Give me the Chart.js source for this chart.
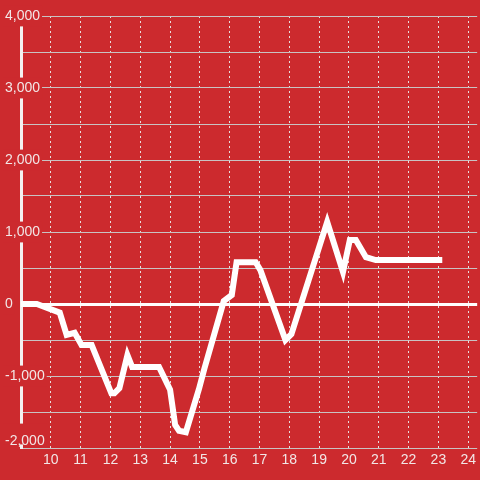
<!DOCTYPE html>
<html>
<head>
<meta charset="utf-8">
<script src="https://cdn.jsdelivr.net/npm/chart.js@4/dist/chart.umd.min.js"></script>
<style>
  body { margin: 0; background: #cc2a2e; }
  #chart { display: block; background: #cc2a2e; }
</style>
</head>
<body>
<canvas id="chart" width="480" height="480"></canvas>
<script>
// time (x) and value (y)
const xValues = [9.0, 9.53, 10.3, 10.53, 10.8, 11.03, 11.37, 12.03, 12.13, 12.3, 12.57, 12.73, 13.63,
  14.0, 14.17, 14.3, 14.53, 14.97, 15.15, 15.8, 16.07, 16.23, 16.87, 17.03, 17.87, 18.07,
  19.27, 19.8, 20.03, 20.23, 20.57, 20.9, 23.13];
const yValues = [0, 0, -120, -430, -400, -570, -570, -1240, -1240, -1170, -710, -875, -875,
  -1190, -1680, -1760, -1780, -1180, -900, 40, 125, 580, 580, 470, -500, -420,
  1140, 445, 890, 890, 650, 610, 610];
const xTicks = [10, 11, 12, 13, 14, 15, 16, 17, 18, 19, 20, 21, 22, 23, 24];

const bg = "#cc2a2e";
const textColor = "#f2e6e6";
const font = { family: "'Liberation Sans', Arial, sans-serif", size: 14 };

const points = xValues.map((x, i) => ({ x: x, y: yValues[i] }));

// lift the lowest y label so it stays inside the plot, like the original
const liftBottomLabel = {
  id: "liftBottomLabel",
  beforeDraw(chart) {
    const scale = chart.scales.y;
    const items = scale.getLabelItems(chart.chartArea);
    const last = items.find((it) => it.label === "-2,000");
    if (last && !last.lifted) {
      last.options.translation[1] -= 7;
      if (last.options.backdrop) last.options.backdrop.top -= 7;
      last.lifted = true;
    }
  }
};

new Chart(document.getElementById("chart"), {
  type: "line",
  data: {
    datasets: [{
      data: points,
      borderColor: "#ffffff",
      borderWidth: 6,
      pointRadius: 0,
      tension: 0,
      fill: false
    }]
  },
  options: {
    responsive: false,
    animation: false,
    layout: { padding: { left: 21, top: 16, right: 0, bottom: 0 } },
    plugins: { legend: { display: false }, tooltip: { enabled: false } },
    scales: {
      x: {
        type: "linear",
        min: 9,
        max: 24.3,
        afterBuildTicks: (scale) => {
          scale.ticks = xTicks.map((v) => ({ value: v }));
        },
        afterFit: (scale) => { scale.height = 32; },
        ticks: { color: textColor, font: font, padding: 4, autoSkip: false, maxRotation: 0 },
        grid: { color: "#e8dede", lineWidth: 1, drawTicks: false },
        border: { display: false, dash: [2, 3] }
      },
      y: {
        min: -2000,
        max: 4000,
        afterFit: (scale) => { scale.width = 0; },
        ticks: {
          stepSize: 500,
          mirror: true,
          padding: -16,
          color: textColor,
          font: font,
          showLabelBackdrop: (ctx) => ctx.tick && ctx.tick.value % 1000 === 0,
          backdropColor: bg,
          backdropPadding: 2,
          callback: (v) => (v % 1000 === 0 ? v.toLocaleString("en-US") : "")
        },
        grid: {
          drawTicks: false,
          color: (ctx) => (ctx.tick && ctx.tick.value === 0 ? "#ffffff" : "#c9c3c3"),
          lineWidth: (ctx) => (ctx.tick && ctx.tick.value === 0 ? 3 : 1)
        },
        border: { display: true, color: "#f4f0f0", width: 3 }
      }
    }
  },
  plugins: [liftBottomLabel]
});
</script>
</body>
</html>
